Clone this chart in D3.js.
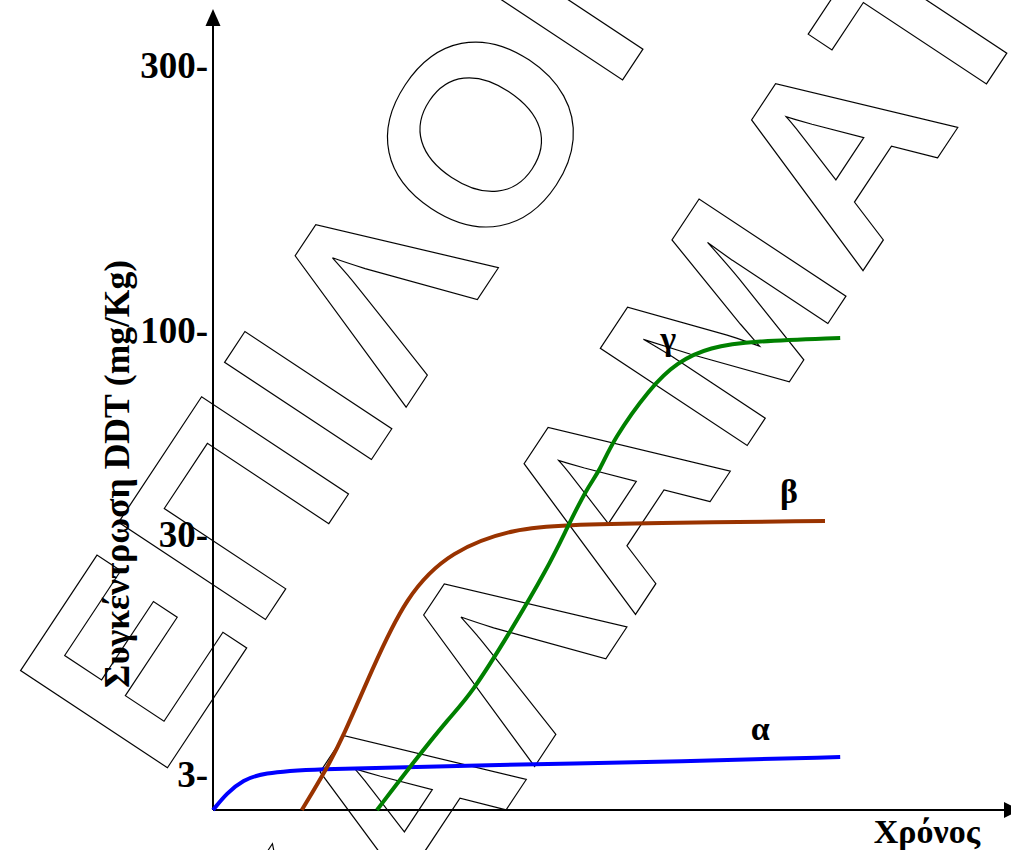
<!DOCTYPE html>
<html>
<head>
<meta charset="utf-8">
<script src="https://cdn.jsdelivr.net/npm/d3@7"></script>
<style>
  body { margin: 0; background: #fff; }
  svg { display: block; }
</style>
</head>
<body>
<div id="chart"></div>
<script>
var yTicks = [3, 30, 100, 300]
var yLabel = 'Συγκέντρωση DDT (mg/Kg)'
var xLabel = 'Χρόνος'

var alphaT = [0, 1.75, 3.75, 6.25, 12, 29.5, 60.9, 78.4]
var alphaV = [0, 1.55, 2.73, 3.45, 3.9, 4.24, 4.8, 5.25]

var betaT = [11.1, 14.25, 16.25, 19.75, 24.1, 29.75, 37.9, 44.25, 54, 76.5]
var betaV = [0, 4.0, 7.5, 14.8, 23.4, 28.5, 33.1, 34.1, 34.8, 35.5]

var gammaT = [20.5, 25, 29.6, 32.25, 37, 41.9, 44.25, 46.75, 48.4, 50, 54.6, 58, 62.1, 67.5, 78.4]
var gammaV = [0, 4.6, 9.75, 12.3, 19.1, 26.6, 33.1, 46.8, 53.0, 63.3, 81.1, 90.0, 95.2, 97.2, 98.3]

var seriesNames = ['α', 'β', 'γ']
var seriesColors = ['#0000ff', '#993300', '#008000']
var labelT = [68.4, 72.0, 56.9]
var labelV = [7.2, 41.7, 94.1]

var watermark = ['ΕΠΙΛΟΓΗ', 'ΚΑΛΑΜΑΤΑ']

var w = 1011
var h = 850
var ox = 213
var oy = 810

var svg = d3.select('#chart').append('svg')
    .attr('width', w)
    .attr('height', h)

var x = d3.scaleLinear().domain([0, 100]).range([ox, ox + 800])
// the y axis is only schematic, each tick sits at its own height
var y = d3.scaleLinear().domain([0, 3, 30, 100, 300]).range([oy, 777, 537, 333, 68])

var serif = 'Liberation Serif, Times New Roman, serif'

// axes
svg.append('line')
    .attr('x1', ox).attr('y1', oy)
    .attr('x2', ox).attr('y2', 20)
    .attr('stroke', '#000').attr('stroke-width', 2)
svg.append('path')
    .attr('d', 'M' + ox + ',9 L' + (ox - 7.5) + ',26 L' + (ox + 7.5) + ',26 Z')
    .attr('fill', '#000')
svg.append('line')
    .attr('x1', ox).attr('y1', oy)
    .attr('x2', 1008).attr('y2', oy)
    .attr('stroke', '#000').attr('stroke-width', 2)
svg.append('path')
    .attr('d', 'M1020,' + oy + ' L1004,' + (oy - 8) + ' L1004,' + (oy + 8) + ' Z')
    .attr('fill', '#000')

svg.selectAll('.tick')
    .data(yTicks)
    .enter().append('text')
    .attr('class', 'tick')
    .attr('x', 208)
    .attr('y', function(d){return y(d) + 10})
    .attr('text-anchor', 'end')
    .style('font-family', serif)
    .style('font-weight', 'bold')
    .style('font-size', '37px')
    .text(function(d){return d + '-'})

svg.append('text')
    .attr('transform', 'translate(129,474) rotate(-90)')
    .attr('text-anchor', 'middle')
    .style('font-family', serif)
    .style('font-weight', 'bold')
    .style('font-size', '35.5px')
    .text(yLabel)

svg.append('text')
    .attr('x', 980)
    .attr('y', 843)
    .attr('text-anchor', 'end')
    .style('font-family', serif)
    .style('font-weight', 'bold')
    .style('font-size', '34px')
    .text(xLabel)

svg.selectAll('.lbl')
    .data(seriesNames)
    .enter().append('text')
    .attr('class', 'lbl')
    .attr('x', function(d, i){return x(labelT[i])})
    .attr('y', function(d, i){return y(labelV[i])})
    .attr('text-anchor', 'middle')
    .style('font-family', serif)
    .style('font-weight', 'bold')
    .style('font-size', '34px')
    .text(function(d){return d})

// outlined watermark
var wm = svg.append('g')
    .style('font-family', 'Liberation Sans, Arial, sans-serif')
    .style('font-weight', 'bold')
    .style('font-size', '256px')
    .style('letter-spacing', '7px')
    .attr('fill', 'none')
    .attr('stroke', '#000')
    .attr('stroke-width', 1.2)
wm.append('text')
    .attr('transform', 'translate(158,782) rotate(-56.5)')
    .text(watermark[0])
wm.append('text')
    .attr('transform', 'translate(322,1088) rotate(-56.5)')
    .text(watermark[1])

var line = d3.line()
    .x(function(d){return x(d[0])})
    .y(function(d){return y(d[1])})
    .curve(d3.curveBasis)

var series = [d3.zip(alphaT, alphaV), d3.zip(betaT, betaV), d3.zip(gammaT, gammaV)]

svg.selectAll('.curve')
    .data(series)
    .enter().append('path')
    .attr('class', 'curve')
    .attr('d', line)
    .attr('fill', 'none')
    .attr('stroke', function(d, i){return seriesColors[i]})
    .attr('stroke-width', 4)
</script>
</body>
</html>
